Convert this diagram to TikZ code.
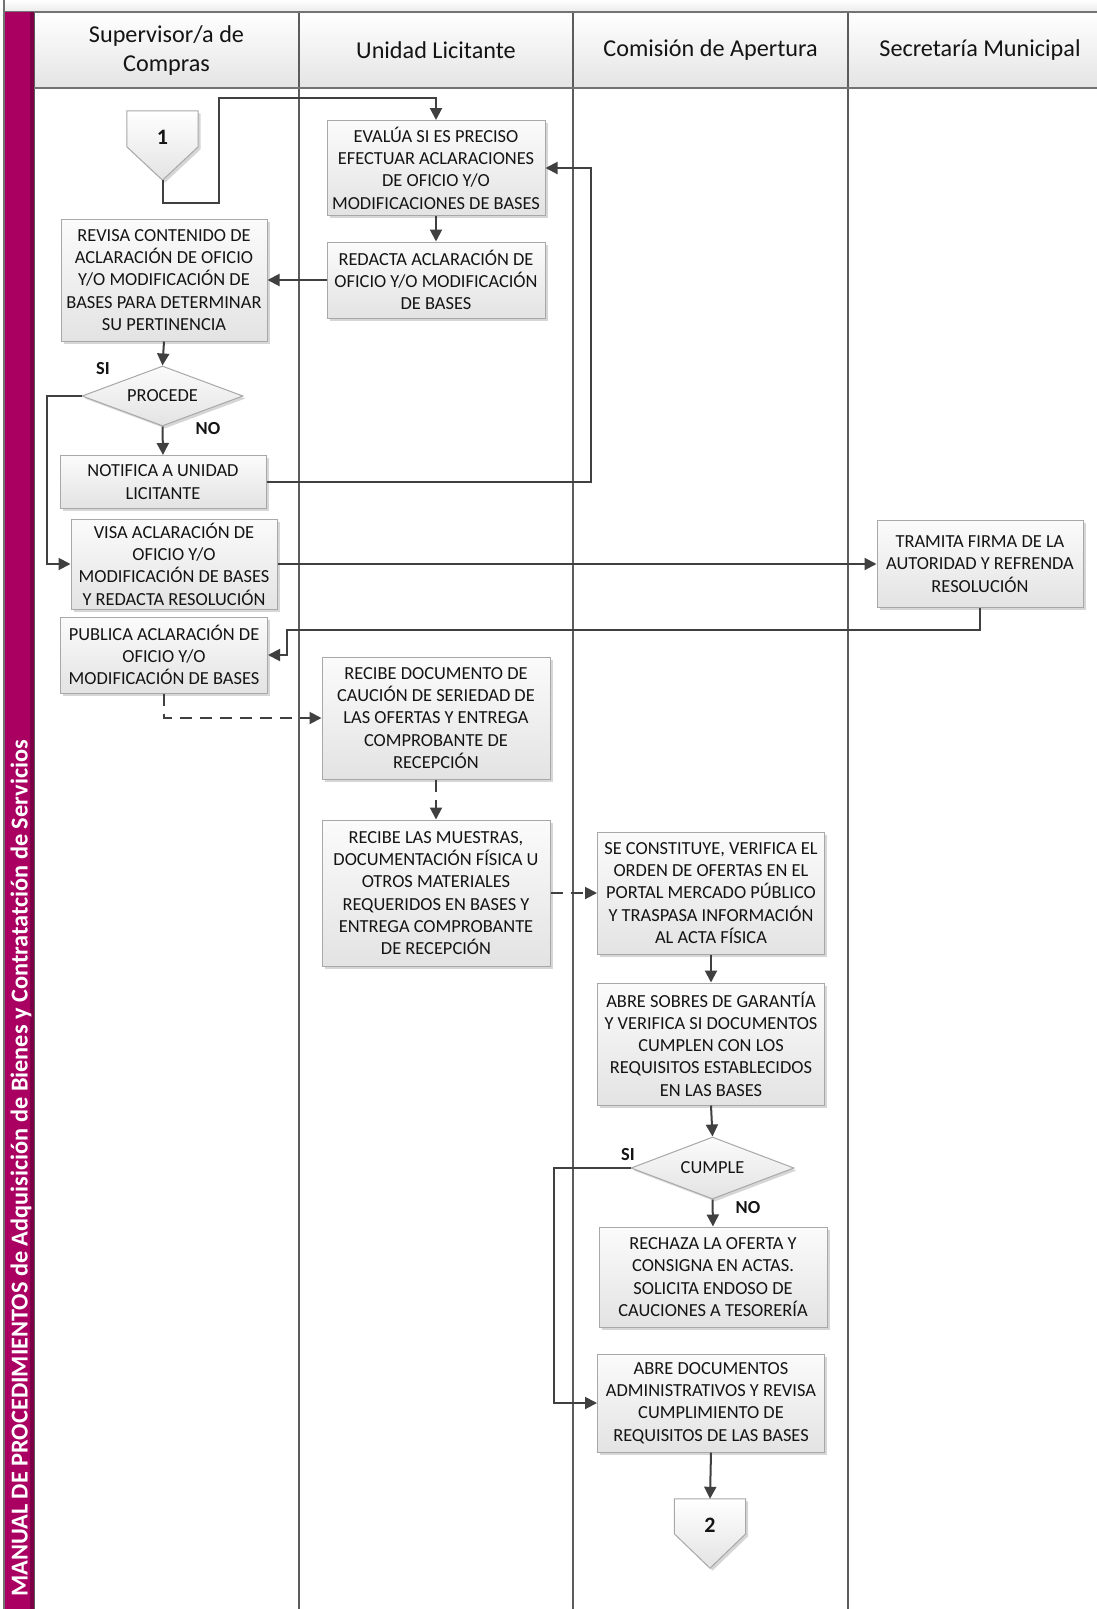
\documentclass[tikz,border=0pt]{standalone}
\usepackage{fontspec}
\setmainfont{Carlito}
\usetikzlibrary{arrows.meta,shapes.geometric,shadows,calc}

\definecolor{lineclr}{HTML}{404040}
\definecolor{laneclr}{HTML}{5C5C5C}
\definecolor{boxedge}{HTML}{A8A8A8}
\definecolor{boxtop}{HTML}{FBFBFB}
\definecolor{boxbot}{HTML}{E3E3E3}
\definecolor{hdrtop}{HTML}{FFFFFF}
\definecolor{hdrbot}{HTML}{E4E4E4}
\definecolor{bandclr}{HTML}{AA0062}
\definecolor{banddark}{HTML}{7C0046}
\definecolor{txtclr}{HTML}{141414}

\newcommand\boxfont{\fontsize{18.4}{22.3}\selectfont}
\newcommand\hdrfont{\fontsize{24.2}{29}\selectfont}

\tikzset{
  shade/.style={drop shadow={shadow xshift=2.5pt, shadow yshift=-2.5pt, opacity=0.16, fill=black}},
  proc/.style={draw=boxedge, line width=1pt, top color=boxtop, bottom color=boxbot,
    text=txtclr, align=center, inner sep=0pt, font=\boxfont, shade},
  decision/.style={diamond, aspect=2.65, draw=boxedge, line width=1pt, top color=boxtop,
    bottom color=boxbot, text=txtclr, inner sep=0pt, font=\boxfont, shade},
  offpage/.style={draw=none, inner sep=0pt, minimum width=71, minimum height=69},
  offshape/.style={draw=boxedge, line width=1pt, top color=white, bottom color=boxbot, shade},
  offtext/.style={font=\fontsize{22}{26}\selectfont\bfseries, text=txtclr, inner sep=0pt},
  lanehdr/.style={font=\hdrfont, text=txtclr, align=center, inner sep=0pt},
  tag/.style={font=\fontsize{18.4}{22}\selectfont\bfseries, text=txtclr, inner sep=0pt},
  flow/.style={draw=lineclr, line width=2pt, -{Triangle[length=12pt,width=12pt]}},
  dflow/.style={flow, dash pattern=on 12pt off 8pt},
  lane/.style={draw=laneclr, line width=1.6pt},
}

\begin{document}
\begin{tikzpicture}[x=1pt,y=-1pt]
\useasboundingbox (0,0) rectangle (1097,1609);

% page frame, top band and swimlane header
\fill[white] (0,0) rectangle (1097,1609);
\fill[top color=white, bottom color=black!8] (4,0) rectangle (1097,12);
\path[top color=hdrtop, bottom color=hdrbot] (34,12) rectangle (1097,88);
\draw[lane] (34,12) -- (34,1609);
\draw[lane] (299,12) -- (299,1609);
\draw[lane] (573,12) -- (573,1609);
\draw[lane] (848,12) -- (848,1609);
\draw[line width=2pt, draw=black!55] (4,12) -- (1097,12);
\draw[line width=2pt, draw=black!55] (34,88) -- (1097,88);
\draw[line width=1.6pt, draw=black!55] (4,0) -- (4,1609);

% side band with the manual title
\fill[bandclr] (5,12) rectangle (34,1609);
\fill[banddark] (30,12) rectangle (34,1609);
\node[rotate=90, anchor=base east, inner sep=0pt, text=white,
      font=\fontsize{24.3}{28}\selectfont\bfseries] (title) at (27.5,740)
  {MANUAL DE PROCEDIMIENTOS de Adquisición de Bienes y Contratatción de Servicios};

% lane headers
\node[lanehdr] (h1) at (166.5,51) {Supervisor/a de\\Compras};
\node[lanehdr] (h2) at (436,50) {Unidad Licitante};
\node[lanehdr] (h3) at (710.5,50) {Comisión de Apertura};
\node[lanehdr] (h4) at (980,50) {Secretaría Municipal};

% off-page connector 1
\node[offpage] (c1) at (162.5,145.5) {};
\path[offshape] (c1.north west) -- (c1.north east) -- ($(c1.north east)+(0,36)$)
  -- (c1.south) -- ($(c1.north west)+(0,36)$) -- cycle;
\node[offtext] (c1t) at ($(c1.north)+(0,26.5)$) {1};

% process steps
\node[proc, minimum width=218, minimum height=95] (A) at (436,168)
  {EVALÚA SI ES PRECISO\\EFECTUAR ACLARACIONES\\DE OFICIO Y/O\\MODIFICACIONES DE BASES};
\node[proc, minimum width=218, minimum height=76] (B) at (436,280)
  {REDACTA ACLARACIÓN DE\\OFICIO Y/O MODIFICACIÓN\\DE BASES};
\node[proc, minimum width=206, minimum height=122] (C) at (164,280)
  {REVISA CONTENIDO DE\\ACLARACIÓN DE OFICIO\\Y/O MODIFICACIÓN DE\\BASES PARA DETERMINAR\\SU PERTINENCIA};
\node[decision, minimum width=161, minimum height=60] (d1) at (162.5,396) {PROCEDE};
\node[tag] (si1) at (103,369) {SI};
\node[tag] (no1) at (208,429) {NO};
\node[proc, minimum width=206, minimum height=53] (D) at (163,482)
  {NOTIFICA A UNIDAD\\LICITANTE};
\node[proc, minimum width=206, minimum height=90] (E) at (174,564)
  {VISA ACLARACIÓN DE\\OFICIO Y/O\\MODIFICACIÓN DE BASES\\Y REDACTA RESOLUCIÓN};
\node[proc, minimum width=206, minimum height=87] (F) at (980,564)
  {TRAMITA FIRMA DE LA\\AUTORIDAD Y REFRENDA\\RESOLUCIÓN};
\node[proc, minimum width=207, minimum height=76] (G) at (164,655)
  {PUBLICA ACLARACIÓN DE\\OFICIO Y/O\\MODIFICACIÓN DE BASES};
\node[proc, minimum width=228, minimum height=122] (H) at (436,718)
  {RECIBE DOCUMENTO DE\\CAUCIÓN DE SERIEDAD DE\\LAS OFERTAS Y ENTREGA\\COMPROBANTE DE\\RECEPCIÓN};
\node[proc, minimum width=228, minimum height=146] (I) at (436,893)
  {RECIBE LAS MUESTRAS,\\DOCUMENTACIÓN FÍSICA U\\OTROS MATERIALES\\REQUERIDOS EN BASES Y\\ENTREGA COMPROBANTE\\DE RECEPCIÓN};
\node[proc, minimum width=227, minimum height=122] (J) at (711,893)
  {SE CONSTITUYE, VERIFICA EL\\ORDEN DE OFERTAS EN EL\\PORTAL MERCADO PÚBLICO\\Y TRASPASA INFORMACIÓN\\AL ACTA FÍSICA};
\node[proc, minimum width=227, minimum height=122] (K) at (711,1044)
  {ABRE SOBRES DE GARANTÍA\\Y VERIFICA SI DOCUMENTOS\\CUMPLEN CON LOS\\REQUISITOS ESTABLECIDOS\\EN LAS BASES};
\node[decision, minimum width=163, minimum height=62] (d2) at (712.5,1168) {CUMPLE};
\node[tag] (si2) at (628,1155) {SI};
\node[tag] (no2) at (748,1208) {NO};
\node[proc, minimum width=228, minimum height=100] (L) at (713,1277)
  {RECHAZA LA OFERTA Y\\CONSIGNA EN ACTAS.\\SOLICITA ENDOSO DE\\CAUCIONES A TESORERÍA};
\node[proc, minimum width=227, minimum height=98] (M) at (711,1403)
  {ABRE DOCUMENTOS\\ADMINISTRATIVOS Y REVISA\\CUMPLIMIENTO DE\\REQUISITOS DE LAS BASES};

% off-page connector 2
\node[offpage] (c2) at (710,1533.5) {};
\path[offshape] (c2.north west) -- (c2.north east) -- ($(c2.north east)+(0,35)$)
  -- (c2.south) -- ($(c2.north west)+(0,35)$) -- cycle;
\node[offtext] (c2t) at ($(c2.north)+(0,26.5)$) {2};

% connectors
\draw[flow] (c1.south) |- (219,203) |- ($(A.north)+(0,-22)$) -- (A.north);
\draw[flow] (A.south) -- (B.north);
\draw[flow] (B.west) -- (C.east);
\draw[flow] (C.south) -- (d1.north);
\draw[flow] (d1.south) -- (D.north);
\draw[flow] (D.east) -| ($(A.east)+(45,0)$) -- (A.east);
\draw[flow] (d1.west) -| ($(E.west)+(-24,0)$) -- (E.west);
\draw[flow] (E.east) -- (F.west);
\draw[flow] (F.south) -- ++(0,22) -| ($(G.east)+(19,0)$) -- (G.east);
\draw[dflow] (G.south) |- (H.west);
\draw[dflow] (H.south) -- (I.north);
\draw[dflow] (I.east) -- (J.west);
\draw[flow] (J.south) -- (K.north);
\draw[flow] (K.south) -- (d2.north);
\draw[flow] (d2.south) -- (L.north);
\draw[flow] (d2.west) -| ($(M.west)+(-43,0)$) -- (M.west);
\draw[flow] (M.south) -- (c2.north);
\end{tikzpicture}
\end{document}
